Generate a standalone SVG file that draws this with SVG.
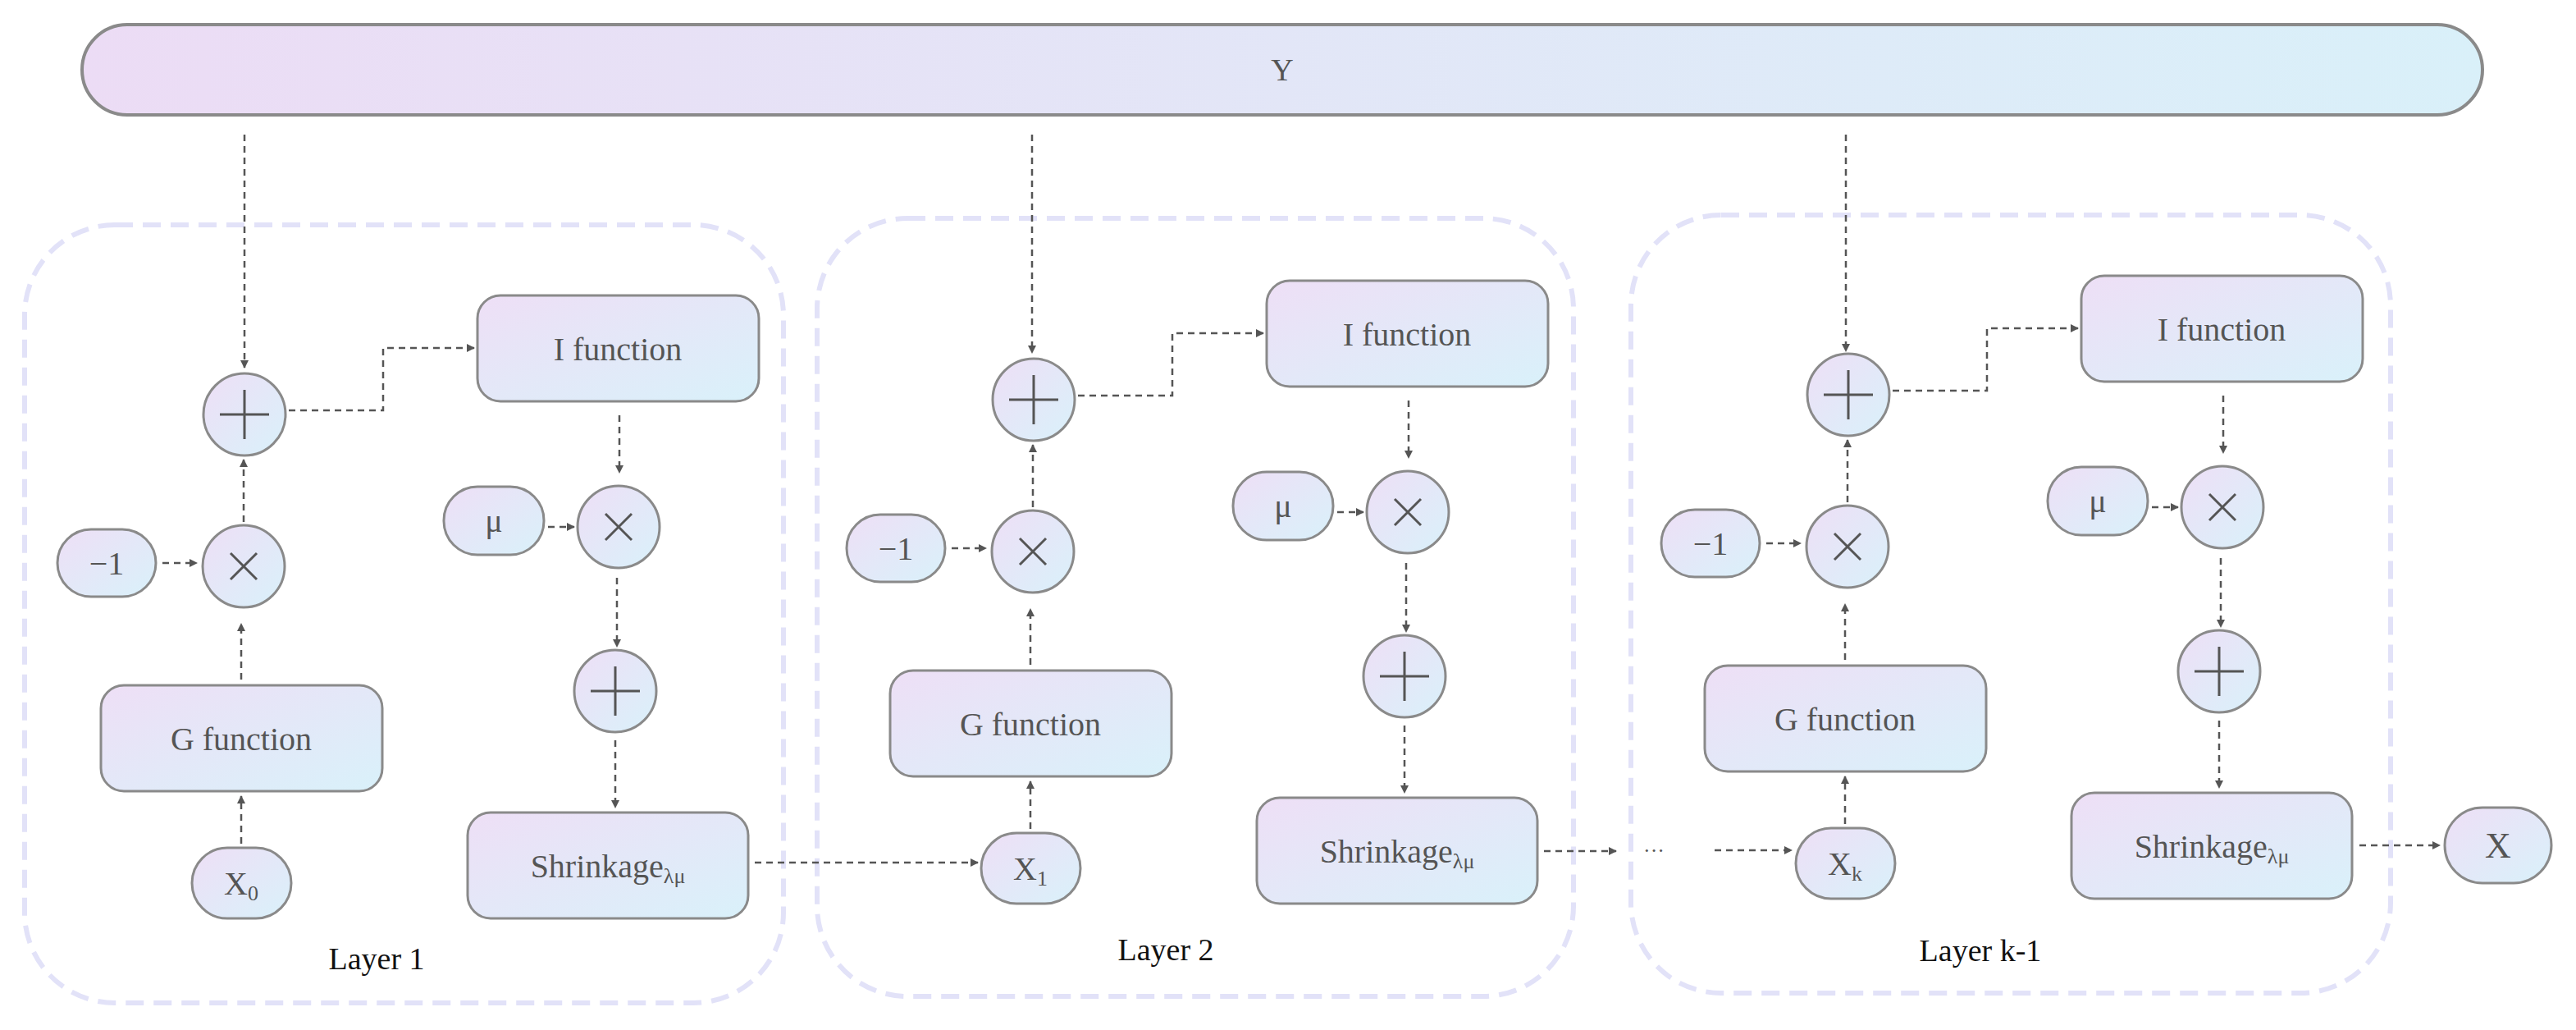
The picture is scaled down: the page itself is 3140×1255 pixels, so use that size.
<svg xmlns="http://www.w3.org/2000/svg" xmlns:xlink="http://www.w3.org/1999/xlink" width="3140" height="1255" viewBox="0 0 3140 1255">
<defs>
<linearGradient id="g" x1="0" y1="0" x2="1" y2="1"><stop offset="0" stop-color="#eedff6"/><stop offset="1" stop-color="#d9f1fa"/></linearGradient>
<linearGradient id="gy" x1="0" y1="0" x2="1" y2="0"><stop offset="0" stop-color="#ecdcf5"/><stop offset="1" stop-color="#d9f0f9"/></linearGradient>
<marker id="a" viewBox="0 0 10 10" refX="9" refY="5" markerWidth="4" markerHeight="4" orient="auto"><path d="M0,0L10,5L0,10z" fill="#555"/></marker>
<marker id="ab" viewBox="0 0 10 10" refX="9" refY="5" markerWidth="5" markerHeight="5" orient="auto"><path d="M0,0L10,5L0,10z" fill="#555"/></marker>
</defs>
<style>
.n{fill:url(#g);stroke:#8a8a8a;stroke-width:3}
.t{font-family:"Liberation Serif",serif;fill:#555;text-anchor:middle;dominant-baseline:central}
.lay{fill:none;stroke:#e2e2f8;stroke-width:6;stroke-dasharray:22 12}
.c{fill:none;stroke:#555;stroke-width:2.5;stroke-dasharray:8 6;marker-end:url(#a)}
.op{stroke:#555;stroke-width:3}
</style>
<g id="Y"><rect x="100" y="30" width="2926" height="110" rx="55" fill="url(#gy)" stroke="#8a8a8a" stroke-width="4"/><text class="t" x="1563" y="85" font-size="38">Y</text></g>

<g id="layer1"><rect class="lay" x="30" y="274" width="925" height="948" rx="110"/><text class="t" x="459" y="1168" font-size="38" fill="#111" style="fill:#111">Layer 1</text>
<g id="l1-plus"><circle class="n" cx="298" cy="505" r="50"/><path class="op" d="M268,505h60M298,475v60"/></g>
<g id="l1-times"><circle class="n" cx="297" cy="690" r="50"/><path class="op" d="M281,674l32,32M313,674l-32,32"/></g>
<g id="l1-m1"><rect class="n" x="70" y="645" width="120" height="82" rx="41"/><text class="t" x="130" y="686" font-size="40">−1</text></g>
<g id="l1-G"><rect class="n" x="123" y="835" width="343" height="129" rx="28"/><text class="t" x="294" y="900" font-size="40">G function</text></g>
<g id="l1-X0"><rect class="n" x="234" y="1033" width="121" height="86" rx="43"/><text class="t" x="294" y="1076" font-size="40">X<tspan font-size="26" dy="12">0</tspan></text></g>
<g id="l1-I"><rect class="n" x="582" y="360" width="343" height="129" rx="28"/><text class="t" x="753" y="425" font-size="40">I function</text></g>
<g id="l1-mu"><rect class="n" x="541" y="593" width="122" height="83" rx="41"/><text class="t" x="602" y="634" font-size="40">μ</text></g>
<g id="l1-times2"><circle class="n" cx="754" cy="642" r="50"/><path class="op" d="M738,626l32,32M770,626l-32,32"/></g>
<g id="l1-plus2"><circle class="n" cx="750" cy="842" r="50"/><path class="op" d="M720,842h60M750,812v60"/></g>
<g id="l1-S"><rect class="n" x="570" y="990" width="342" height="129" rx="28"/><text class="t" x="741" y="1055" font-size="40">Shrinkage<tspan font-size="26" dy="12">λμ</tspan></text></g>
</g>

<g id="layer2" transform="translate(962,-18)"><rect class="lay" x="34" y="284" width="922" height="948" rx="110"/><text class="t" x="459" y="1175" font-size="38" style="fill:#111">Layer 2</text>
<g id="l2-plus"><circle class="n" cx="298" cy="505" r="50"/><path class="op" d="M268,505h60M298,475v60"/></g>
<g id="l2-times"><circle class="n" cx="297" cy="690" r="50"/><path class="op" d="M281,674l32,32M313,674l-32,32"/></g>
<g id="l2-m1"><rect class="n" x="70" y="645" width="120" height="82" rx="41"/><text class="t" x="130" y="686" font-size="40">−1</text></g>
<g id="l2-G"><rect class="n" x="123" y="835" width="343" height="129" rx="28"/><text class="t" x="294" y="900" font-size="40">G function</text></g>
<g id="l2-X1"><rect class="n" x="234" y="1033" width="121" height="86" rx="43"/><text class="t" x="294" y="1076" font-size="40">X<tspan font-size="26" dy="12">1</tspan></text></g>
<g id="l2-I"><rect class="n" x="582" y="360" width="343" height="129" rx="28"/><text class="t" x="753" y="425" font-size="40">I function</text></g>
<g id="l2-mu"><rect class="n" x="541" y="593" width="122" height="83" rx="41"/><text class="t" x="602" y="634" font-size="40">μ</text></g>
<g id="l2-times2"><circle class="n" cx="754" cy="642" r="50"/><path class="op" d="M738,626l32,32M770,626l-32,32"/></g>
<g id="l2-plus2"><circle class="n" cx="750" cy="842" r="50"/><path class="op" d="M720,842h60M750,812v60"/></g>
<g id="l2-S"><rect class="n" x="570" y="990" width="342" height="129" rx="28"/><text class="t" x="741" y="1055" font-size="40">Shrinkage<tspan font-size="26" dy="12">λμ</tspan></text></g>
</g>

<g id="layer3" transform="translate(1955,-24)"><rect class="lay" x="33" y="286" width="926" height="948" rx="110"/><text class="t" x="459" y="1182" font-size="38" style="fill:#111">Layer k-1</text>
<g id="l3-plus"><circle class="n" cx="298" cy="505" r="50"/><path class="op" d="M268,505h60M298,475v60"/></g>
<g id="l3-times"><circle class="n" cx="297" cy="690" r="50"/><path class="op" d="M281,674l32,32M313,674l-32,32"/></g>
<g id="l3-m1"><rect class="n" x="70" y="645" width="120" height="82" rx="41"/><text class="t" x="130" y="686" font-size="40">−1</text></g>
<g id="l3-G"><rect class="n" x="123" y="835" width="343" height="129" rx="28"/><text class="t" x="294" y="900" font-size="40">G function</text></g>
<g id="l3-Xk"><rect class="n" x="234" y="1033" width="121" height="86" rx="43"/><text class="t" x="294" y="1076" font-size="40">X<tspan font-size="26" dy="12">k</tspan></text></g>
<g id="l3-I"><rect class="n" x="582" y="360" width="343" height="129" rx="28"/><text class="t" x="753" y="425" font-size="40">I function</text></g>
<g id="l3-mu"><rect class="n" x="541" y="593" width="122" height="83" rx="41"/><text class="t" x="602" y="634" font-size="40">μ</text></g>
<g id="l3-times2"><circle class="n" cx="754" cy="642" r="50"/><path class="op" d="M738,626l32,32M770,626l-32,32"/></g>
<g id="l3-plus2"><circle class="n" cx="750" cy="842" r="50"/><path class="op" d="M720,842h60M750,812v60"/></g>
<g id="l3-S"><rect class="n" x="570" y="990" width="342" height="129" rx="28"/><text class="t" x="741" y="1055" font-size="40">Shrinkage<tspan font-size="26" dy="12">λμ</tspan></text></g>
</g>

<g id="X"><rect class="n" x="2980" y="984" width="130" height="92" rx="46"/><text class="t" x="3045" y="1030" font-size="44">X</text></g>
<text class="t" x="2016" y="1036" font-size="26">···</text>

<g id="connectors">
<path class="c" d="M298,164V448" marker-end="url(#ab)"/>
<path class="c" d="M1258,164V430" marker-end="url(#ab)"/>
<path class="c" d="M2250,164V428" marker-end="url(#ab)"/>
<g id="c1">
<path class="c" d="M352,500H467V424H578"/>
<path class="c" d="M297,636V560"/>
<path class="c" d="M198,686H240"/>
<path class="c" d="M294,828V760"/>
<path class="c" d="M294,1028V970"/>
<path class="c" d="M755,506V576"/>
<path class="c" d="M668,642H700"/>
<path class="c" d="M752,704V788"/>
<path class="c" d="M750,902V984"/>
</g>
<use xlink:href="#c1" transform="translate(962,-18)"/>
<use xlink:href="#c1" transform="translate(1955,-24)"/>
<path class="c" d="M920,1051H1192"/>
<path class="c" d="M1882,1037H1970"/>
<path class="c" d="M2090,1036H2184"/>
<path class="c" d="M2876,1030H2974"/>
</g>
</svg>
